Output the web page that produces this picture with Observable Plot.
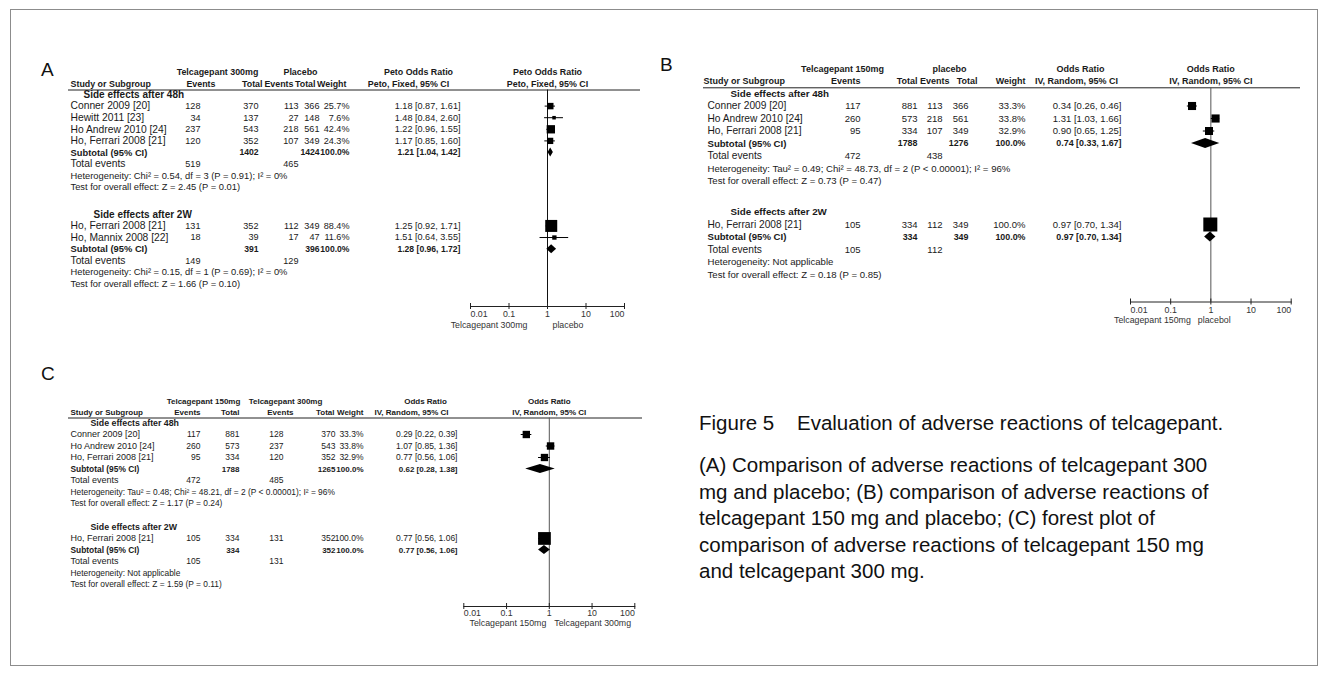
<!DOCTYPE html>
<html>
<head>
<meta charset="utf-8">
<script src="https://cdn.jsdelivr.net/npm/d3@7"></script>
<script src="https://cdn.jsdelivr.net/npm/@observablehq/plot@0.6"></script>
<style>
  html, body { margin: 0; padding: 0; background: #fff; }
  #page { position: relative; width: 1327px; height: 675px; overflow: hidden;
          font-family: Arial, "Liberation Sans", Helvetica, sans-serif; color: #111; }
  .border { position: absolute; left: 10px; top: 9px; width: 1308px; height: 657px;
            border: 1px solid #8c8c8c; box-sizing: border-box; }
  .panel { position: absolute; }
  .panel svg { overflow: visible; }
  .plabel { position: absolute; font-size: 19px; line-height: 19px; }
  .caption { position: absolute; left: 699px; font-size: 20.5px; line-height: 26.5px; white-space: nowrap; }
</style>
</head>
<body>
<div id="page">
  <div class="border"></div>
  <div class="plabel" style="left:41px;top:60px">A</div>
  <div class="plabel" style="left:660px;top:55px">B</div>
  <div class="plabel" style="left:41px;top:364px">C</div>
  <div class="panel" id="pA" style="left:40px;top:55px"></div>
  <div class="panel" id="pB" style="left:655px;top:50px"></div>
  <div class="panel" id="pC" style="left:40px;top:360px"></div>
  <div class="caption" style="top:410px">Figure 5&nbsp;&nbsp;&nbsp;&nbsp;Evaluation of adverse reactions of telcagepant.</div>
  <div class="caption" style="top:452px">(A) Comparison of adverse reactions of telcagepant 300<br>mg and placebo; (B) comparison of adverse reactions of<br>telcagepant 150 mg and placebo; (C) forest plot of<br>comparison of adverse reactions of telcagepant 150 mg<br>and telcagepant 300 mg.</div>
</div>
<script>
const FONT = 'Arial, "Liberation Sans", Helvetica, sans-serif';

// ---------- shared labels ----------
const groupTitles = ["Side effects after 48h", "Side effects after 2W"];
const rowLabels = ["Subtotal (95% CI)", "Total events"];
const axisTicks = [0.01, 0.1, 1, 10, 100];
const axisTickLabels = ["0.01", "0.1", "1", "10", "100"];

// ---------- Panel A: Telcagepant 300mg vs Placebo ----------
const A_header1 = ["Telcagepant 300mg", "Placebo", "Peto Odds Ratio", "Peto Odds Ratio"];
const A_header2 = ["Study or Subgroup", "Events", "Total", "Events", "Total", "Weight", "Peto, Fixed, 95% CI", "Peto, Fixed, 95% CI"];
const A_axisLabels = ["Telcagepant 300mg", "placebo"];

const A1_study = ["Conner 2009 [20]", "Hewitt 2011 [23]", "Ho Andrew 2010 [24]", "Ho, Ferrari 2008 [21]"];
const A1_expEvents = [128, 34, 237, 120];
const A1_expTotal = [370, 137, 543, 352];
const A1_ctlEvents = [113, 27, 218, 107];
const A1_ctlTotal = [366, 148, 561, 349];
const A1_weight = [25.7, 7.6, 42.4, 24.3];
const A1_or = [1.18, 1.48, 1.22, 1.17];
const A1_lo = [0.87, 0.84, 0.96, 0.85];
const A1_hi = [1.61, 2.60, 1.55, 1.60];
const A1_subtotal = [1402, 1424, 100.0, 1.21, 1.04, 1.42];
const A1_totalEvents = [519, 465];
const A1_het = "Heterogeneity: Chi² = 0.54, df = 3 (P = 0.91); I² = 0%";
const A1_test = "Test for overall effect: Z = 2.45 (P = 0.01)";

const A2_study = ["Ho, Ferrari 2008 [21]", "Ho, Mannix 2008 [22]"];
const A2_expEvents = [131, 18];
const A2_expTotal = [352, 39];
const A2_ctlEvents = [112, 17];
const A2_ctlTotal = [349, 47];
const A2_weight = [88.4, 11.6];
const A2_or = [1.25, 1.51];
const A2_lo = [0.92, 0.64];
const A2_hi = [1.71, 3.55];
const A2_subtotal = [391, 396, 100.0, 1.28, 0.96, 1.72];
const A2_totalEvents = [149, 129];
const A2_het = "Heterogeneity: Chi² = 0.15, df = 1 (P = 0.69); I² = 0%";
const A2_test = "Test for overall effect: Z = 1.66 (P = 0.10)";

// ---------- Panel B: Telcagepant 150mg vs placebo ----------
const B_header1 = ["Telcagepant 150mg", "placebo", "Odds Ratio", "Odds Ratio"];
const B_header2 = ["Study or Subgroup", "Events", "Total", "Events", "Total", "Weight", "IV, Random, 95% CI", "IV, Random, 95% CI"];
const B_axisLabels = ["Telcagepant 150mg", "placebol"];

const B1_study = ["Conner 2009 [20]", "Ho Andrew 2010 [24]", "Ho, Ferrari 2008 [21]"];
const B1_expEvents = [117, 260, 95];
const B1_expTotal = [881, 573, 334];
const B1_ctlEvents = [113, 218, 107];
const B1_ctlTotal = [366, 561, 349];
const B1_weight = [33.3, 33.8, 32.9];
const B1_or = [0.34, 1.31, 0.90];
const B1_lo = [0.26, 1.03, 0.65];
const B1_hi = [0.46, 1.66, 1.25];
const B1_subtotal = [1788, 1276, 100.0, 0.74, 0.33, 1.67];
const B1_totalEvents = [472, 438];
const B1_het = "Heterogeneity: Tau² = 0.49; Chi² = 48.73, df = 2 (P < 0.00001); I² = 96%";
const B1_test = "Test for overall effect: Z = 0.73 (P = 0.47)";

const B2_study = ["Ho, Ferrari 2008 [21]"];
const B2_expEvents = [105];
const B2_expTotal = [334];
const B2_ctlEvents = [112];
const B2_ctlTotal = [349];
const B2_weight = [100.0];
const B2_or = [0.97];
const B2_lo = [0.70];
const B2_hi = [1.34];
const B2_subtotal = [334, 349, 100.0, 0.97, 0.70, 1.34];
const B2_totalEvents = [105, 112];
const B2_het = "Heterogeneity: Not applicable";
const B2_test = "Test for overall effect: Z = 0.18 (P = 0.85)";

// ---------- Panel C: Telcagepant 150mg vs Telcagepant 300mg ----------
const C_header1 = ["Telcagepant 150mg", "Telcagepant 300mg", "Odds Ratio", "Odds Ratio"];
const C_header2 = ["Study or Subgroup", "Events", "Total", "Events", "Total", "Weight", "IV, Random, 95% CI", "IV, Random, 95% CI"];
const C_axisLabels = ["Telcagepant 150mg", "Telcagepant 300mg"];

const C1_study = ["Conner 2009 [20]", "Ho Andrew 2010 [24]", "Ho, Ferrari 2008 [21]"];
const C1_expEvents = [117, 260, 95];
const C1_expTotal = [881, 573, 334];
const C1_ctlEvents = [128, 237, 120];
const C1_ctlTotal = [370, 543, 352];
const C1_weight = [33.3, 33.8, 32.9];
const C1_or = [0.29, 1.07, 0.77];
const C1_lo = [0.22, 0.85, 0.56];
const C1_hi = [0.39, 1.36, 1.06];
const C1_subtotal = [1788, 1265, 100.0, 0.62, 0.28, 1.38];
const C1_totalEvents = [472, 485];
const C1_het = "Heterogeneity: Tau² = 0.48; Chi² = 48.21, df = 2 (P < 0.00001); I² = 96%";
const C1_test = "Test for overall effect: Z = 1.17 (P = 0.24)";

const C2_study = ["Ho, Ferrari 2008 [21]"];
const C2_expEvents = [105];
const C2_expTotal = [334];
const C2_ctlEvents = [131];
const C2_ctlTotal = [352];
const C2_weight = [100.0];
const C2_or = [0.77];
const C2_lo = [0.56];
const C2_hi = [1.06];
const C2_subtotal = [334, 352, 100.0, 0.77, 0.56, 1.06];
const C2_totalEvents = [105, 131];
const C2_het = "Heterogeneity: Not applicable";
const C2_test = "Test for overall effect: Z = 1.59 (P = 0.11)";

// ---------- helpers ----------
function makeGroup(title, study, e1, n1, e2, n2, w, or, lo, hi, sub, tot, het, test) {
  return {title, study, e1, n1, e2, n2, w, or, lo, hi, sub, tot, het, test};
}
const fmtCI = (o, l, h) => `${o.toFixed(2)} [${l.toFixed(2)}, ${h.toFixed(2)}]`;
const fmtW = w => `${w.toFixed(1)}%`;

// layout (absolute page pixels) and font sizes
const LA = {
  left: 40, top: 55, w: 610, h: 290,
  x0: 470, x1: 624, underline: 89.5, axis: 306, title1: 94, rowH: 11.6, gap: 2.33,
  hdr1: 72, hdr2: 84, ul: [68, 640],
  cols: {name: 70, e1: 200, n1: 258, e2: 298, n2: 319, w: 349, ci: 460},
  titleX: [83, 93],
  head: {g1: 217, g2: 300, m1: 418, study: 70, e1: 215, n1: 262, e2: 293, n2: 315, w: 346, m2: 408},
  R: 7.2, dHalf: 4.5, refColor: "#111",
  fsName: 10.3, fsTitle: 10, fsNum: 9.1, fsStat: 9.35, fsHead: 8.9, fsBoldNum: 8.6, fsAx: 8.8,
  tickDy: 10, capDy: 21, capDx: [-20, 5]
};
const LB = {
  left: 655, top: 50, w: 655, h: 285,
  x0: 1130, x1: 1290.7, underline: 87.3, axis: 301.5, title1: 93, rowH: 12.5, gap: 2.48,
  hdr1: 69, hdr2: 81, ul: [703, 1300],
  cols: {name: 707, e1: 860, n1: 917, e2: 942, n2: 968, w: 1025, ci: 1121},
  titleX: [730, 730],
  head: {g1: 842, g2: 949, m1: 1080, study: 703, e1: 860, n1: 917, e2: 949, n2: 977, w: 1025, m2: 1076},
  R: 7.9, dHalf: 5, refColor: "#555",
  fsName: 10.2, fsTitle: 9.8, fsNum: 9.5, fsStat: 9.6, fsHead: 9.0, fsBoldNum: 8.9, fsAx: 8.8,
  tickDy: 11, capDy: 21, capDx: [-20, -13]
};
const LC = {
  left: 40, top: 360, w: 610, h: 280,
  x0: 463.3, x1: 634.3, underline: 417.5, axis: 606, title1: 422.5, rowH: 11.5, gap: 2.04,
  hdr1: 401, hdr2: 412, ul: [68, 642],
  cols: {name: 70, e1: 200, n1: 239, e2: 283, n2: 335, w: 363, ci: 457},
  titleX: [90, 90],
  head: {g1: 203, g2: 285, m1: 425, study: 70, e1: 200, n1: 239, e2: 293, n2: 334, w: 363, m2: 411},
  R: 7.2, dHalf: 4.5, refColor: "#555",
  fsName: 9.0, fsTitle: 8.8, fsNum: 8.5, fsStat: 8.4, fsHead: 8.0, fsBoldNum: 8.0, fsAx: 8.8,
  tickDy: 9, capDy: 19, capDx: [-3, 5]
};

function forest(L, groups, h1, h2, axisLabels) {
  const u = px => (px - L.title1) / L.rowH; // page px -> row units
  const C = L.cols, H = L.head;
  const sN = L.fsName, sT = L.fsTitle, sV = L.fsNum, sS = L.fsStat, sH = L.fsHead, sB = L.fsBoldNum;
  const texts = [], studies = [], diamonds = [];
  let y0 = 0;
  groups.forEach((g, gi) => {
    texts.push({y: y0, t: g.title, x: L.titleX[gi], a: "start", b: true, s: sT});
    g.study.forEach((st, i) => {
      const y = y0 + 1 + i;
      texts.push(
        {y, t: st, x: C.name, a: "start", s: sN},
        {y, t: String(g.e1[i]), x: C.e1, a: "end", s: sV},
        {y, t: String(g.n1[i]), x: C.n1, a: "end", s: sV},
        {y, t: String(g.e2[i]), x: C.e2, a: "end", s: sV},
        {y, t: String(g.n2[i]), x: C.n2, a: "end", s: sV},
        {y, t: fmtW(g.w[i]), x: C.w, a: "end", s: sV},
        {y, t: fmtCI(g.or[i], g.lo[i], g.hi[i]), x: C.ci, a: "end", s: sV}
      );
      studies.push({y, or: g.or[i], lo: g.lo[i], hi: g.hi[i], w: g.w[i]});
    });
    const ys = y0 + 1 + g.study.length;
    const [sn1, sn2, sw, so, sl, sh] = g.sub;
    texts.push(
      {y: ys, t: rowLabels[0], x: C.name, a: "start", b: true, s: sS},
      {y: ys, t: String(sn1), x: C.n1, a: "end", b: true, s: sB},
      {y: ys, t: String(sn2), x: C.n2, a: "end", b: true, s: sB},
      {y: ys, t: fmtW(sw), x: C.w, a: "end", b: true, s: sB},
      {y: ys, t: fmtCI(so, sl, sh), x: C.ci, a: "end", b: true, s: sB},
      {y: ys + 1, t: rowLabels[1], x: C.name, a: "start", s: sN},
      {y: ys + 1, t: String(g.tot[0]), x: C.e1, a: "end", s: sV},
      {y: ys + 1, t: String(g.tot[1]), x: C.e2, a: "end", s: sV},
      {y: ys + 2, t: g.het, x: C.name, a: "start", s: sS},
      {y: ys + 3, t: g.test, x: C.name, a: "start", s: sS}
    );
    const hh = L.dHalf / L.rowH;
    diamonds.push(
      {id: gi, y: ys - hh, x1: so, x2: so},
      {id: gi, y: ys, x1: sl, x2: sh},
      {id: gi, y: ys + hh, x1: so, x2: so}
    );
    y0 = ys + 3 + L.gap;
  });
  const yH1 = u(L.hdr1), yH2 = u(L.hdr2);
  texts.push(
    {y: yH1, t: h1[0], x: H.g1, a: "middle", b: true, s: sH},
    {y: yH1, t: h1[1], x: H.g2, a: "middle", b: true, s: sH},
    {y: yH1, t: h1[2], x: H.m1, a: "middle", b: true, s: sH},
    {y: yH2, t: h2[0], x: H.study, a: "start", b: true, s: sH},
    {y: yH2, t: h2[1], x: H.e1, a: "end", b: true, s: sH},
    {y: yH2, t: h2[2], x: H.n1, a: "end", b: true, s: sH},
    {y: yH2, t: h2[3], x: H.e2, a: "end", b: true, s: sH},
    {y: yH2, t: h2[4], x: H.n2, a: "end", b: true, s: sH},
    {y: yH2, t: h2[5], x: H.w, a: "end", b: true, s: sH},
    {y: yH2, t: h2[6], x: H.m2, a: "middle", b: true, s: sH}
  );

  const textMarks = d3.groups(texts, d => `${d.x}|${d.a}|${d.b ? 1 : 0}|${d.s}`).map(([, arr]) =>
    Plot.text(arr, {
      y: "y", text: "t", frameAnchor: "left", dx: arr[0].x - L.x0,
      textAnchor: arr[0].a, lineAnchor: "middle", fontSize: arr[0].s,
      fontWeight: arr[0].b ? "bold" : "normal", fill: "#1a1a1a"
    })
  );

  const frameH = L.axis - L.underline;
  const yr0 = L.title1 - L.top;
  return Plot.plot({
    width: L.w, height: L.h,
    marginLeft: L.x0 - L.left, marginRight: L.left + L.w - L.x1,
    marginTop: L.underline - L.top, marginBottom: L.top + L.h - L.axis,
    x: {type: "log", domain: [0.01, 100], axis: null},
    y: {type: "linear", domain: [0, 1], range: [yr0, yr0 + L.rowH], axis: null},
    r: {type: "sqrt", domain: [0, 100], range: [0, L.R]},
    style: {fontFamily: FONT, fontSize: L.fsNum + "px", color: "#1a1a1a", background: "transparent", overflow: "visible"},
    marks: [
      Plot.ruleY([u(L.underline)], {y: d => d, insetLeft: L.ul[0] - L.x0, insetRight: L.x1 - L.ul[1], stroke: "#222"}),
      ...textMarks,
      Plot.text([{x: 1, y: yH1, t: h1[3]}, {x: 1, y: yH2, t: h2[7]}],
        {x: "x", y: "y", text: "t", fontWeight: "bold", fontSize: sH, fill: "#1a1a1a"}),
      Plot.ruleX([1], {x: d => d, stroke: L.refColor}),
      Plot.ruleY(studies, {y: "y", x1: "lo", x2: "hi", stroke: "#000"}),
      Plot.dot(studies, {x: "or", y: "y", r: "w", symbol: "square", fill: "#000", stroke: "none"}),
      Plot.areaX(diamonds, {y: "y", x1: "x1", x2: "x2", z: "id", fill: "#000", curve: "linear"}),
      Plot.frame({anchor: "bottom", stroke: "#222"}),
      Plot.ruleX(axisTicks, {x: d => d, insetTop: frameH - 3, insetBottom: -3, stroke: "#222"}),
      Plot.text(axisTicks.slice(0, 1), {x: d => d, text: () => axisTickLabels[0], frameAnchor: "bottom",
        dy: L.tickDy, textAnchor: "start", fontSize: L.fsAx, fill: "#333"}),
      Plot.text(axisTicks.slice(1, -1), {x: d => d, text: (d, i) => axisTickLabels[i + 1], frameAnchor: "bottom",
        dy: L.tickDy, textAnchor: "middle", fontSize: L.fsAx, fill: "#333"}),
      Plot.text(axisTicks.slice(-1), {x: d => d, text: () => axisTickLabels[axisTickLabels.length - 1], frameAnchor: "bottom",
        dy: L.tickDy, textAnchor: "end", fontSize: L.fsAx, fill: "#333"}),
      Plot.text([axisLabels[0]], {x: () => 1, text: d => d, frameAnchor: "bottom", dy: L.capDy, dx: L.capDx[0],
        textAnchor: "end", fontSize: L.fsAx, fill: "#333"}),
      Plot.text([axisLabels[1]], {x: () => 1, text: d => d, frameAnchor: "bottom", dy: L.capDy, dx: L.capDx[1],
        textAnchor: "start", fontSize: L.fsAx, fill: "#333"})
    ]
  });
}

const groupsA = [
  makeGroup(groupTitles[0], A1_study, A1_expEvents, A1_expTotal, A1_ctlEvents, A1_ctlTotal, A1_weight, A1_or, A1_lo, A1_hi, A1_subtotal, A1_totalEvents, A1_het, A1_test),
  makeGroup(groupTitles[1], A2_study, A2_expEvents, A2_expTotal, A2_ctlEvents, A2_ctlTotal, A2_weight, A2_or, A2_lo, A2_hi, A2_subtotal, A2_totalEvents, A2_het, A2_test)
];
const groupsB = [
  makeGroup(groupTitles[0], B1_study, B1_expEvents, B1_expTotal, B1_ctlEvents, B1_ctlTotal, B1_weight, B1_or, B1_lo, B1_hi, B1_subtotal, B1_totalEvents, B1_het, B1_test),
  makeGroup(groupTitles[1], B2_study, B2_expEvents, B2_expTotal, B2_ctlEvents, B2_ctlTotal, B2_weight, B2_or, B2_lo, B2_hi, B2_subtotal, B2_totalEvents, B2_het, B2_test)
];
const groupsC = [
  makeGroup(groupTitles[0], C1_study, C1_expEvents, C1_expTotal, C1_ctlEvents, C1_ctlTotal, C1_weight, C1_or, C1_lo, C1_hi, C1_subtotal, C1_totalEvents, C1_het, C1_test),
  makeGroup(groupTitles[1], C2_study, C2_expEvents, C2_expTotal, C2_ctlEvents, C2_ctlTotal, C2_weight, C2_or, C2_lo, C2_hi, C2_subtotal, C2_totalEvents, C2_het, C2_test)
];

document.getElementById("pA").appendChild(forest(LA, groupsA, A_header1, A_header2, A_axisLabels));
document.getElementById("pB").appendChild(forest(LB, groupsB, B_header1, B_header2, B_axisLabels));
document.getElementById("pC").appendChild(forest(LC, groupsC, C_header1, C_header2, C_axisLabels));
</script>
</body>
</html>
